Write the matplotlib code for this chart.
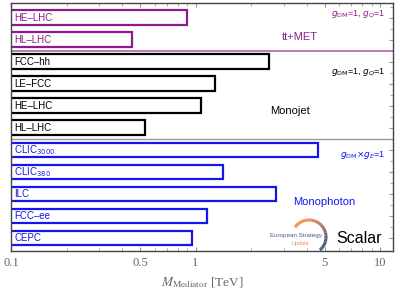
import matplotlib
matplotlib.use("Agg")
import matplotlib.pyplot as plt
import numpy as np
from matplotlib.patches import Arc
from matplotlib.ticker import FixedLocator, FixedFormatter, NullFormatter

# bar labels and reach (TeV), from top to bottom
ttmet_labels = ["HE\u2013LHC", "HL\u2013LHC"]
ttmet_values = [0.90, 0.45]
monojet_labels = ["FCC\u2013hh", "LE\u2013FCC", "HE\u2013LHC", "HL\u2013LHC"]
monojet_values = [2.50, 1.27, 1.07, 0.53]
monophoton_labels = ["CLIC$_{3000}$", "CLIC$_{380}$", "ILC", "FCC\u2013ee", "CEPC"]
monophoton_values = [4.6, 1.40, 2.72, 1.16, 0.96]

xtick_values = [0.1, 0.5, 1, 5, 10]
xtick_labels = ["0.1", "0.5", "1", "5", "10"]

purple = "#8C1C8C"
blue = "#1414EE"
grey = "#666666"

fig = plt.figure(figsize=(3.98, 2.90), dpi=100)
ax = fig.add_axes([11 / 398, 39 / 290, 382 / 398, 248 / 290])

groups = [
    (ttmet_labels, ttmet_values, purple),
    (monojet_labels, monojet_values, "black"),
    (monophoton_labels, monophoton_values, blue),
]
n_rows = sum(len(g[0]) for g in groups)
row = n_rows - 1
for labels, values, color in groups:
    for lab, val in zip(labels, values):
        ax.barh(row, val - 0.05, left=0.05, height=0.66, facecolor="white",
                edgecolor=color, linewidth=1.6)
        ax.text(0.008, row, lab, transform=ax.get_yaxis_transform(),
                ha="left", va="center", fontsize=7, color=color,
                family="Liberation Sans", math_fontfamily="dejavusans")
        row -= 1

# group separators
ax.axhline(8.5, color="#B060B0", lw=1.2)
ax.axhline(4.5, color="#999999", lw=1.0)

ax.set_xscale("log")
ax.set_xlim(0.1, 11.75)
ax.set_ylim(-0.59, 10.66)

ax.xaxis.set_major_locator(FixedLocator(xtick_values))
ax.xaxis.set_major_formatter(FixedFormatter(xtick_labels))
ax.xaxis.set_minor_formatter(NullFormatter())
ax.tick_params(axis="x", which="both", direction="in", top=True, color="#999999",
               labelsize=9, labelcolor=grey, pad=4)
ax.tick_params(axis="x", which="major", length=3)
ax.tick_params(axis="x", which="minor", length=2)
for t in ax.get_xticklabels():
    t.set_family("Liberation Serif")

ax.yaxis.set_major_locator(FixedLocator(np.arange(n_rows)))
ax.yaxis.set_minor_locator(FixedLocator(np.arange(n_rows) + 0.5))
ax.tick_params(axis="y", which="both", direction="in", left=False, right=True,
               labelleft=False, color="#999999")
ax.tick_params(axis="y", which="major", length=3)
ax.tick_params(axis="y", which="minor", length=2)
for s in ax.spines.values():
    s.set_color("#444444")
    s.set_linewidth(1.0)

ax.set_xlabel(r"$M_{\mathrm{Mediator}}$ [TeV]", fontsize=9.5, color=grey,
              family="Liberation Serif", math_fontfamily="stix", labelpad=5)

# annotations
ann = dict(transform=ax.get_yaxis_transform(), family="Liberation Sans",
           math_fontfamily="dejavusans")
ax.text(0.98, 10.16, r"$g_{\mathrm{DM}}$=1, $g_{Q}$=1", ha="right", va="center",
        fontsize=6.5, color=purple, **ann)
ax.text(0.757, 9.12, "tt+MET", ha="center", va="center", fontsize=8, color=purple, **ann)
ax.text(0.98, 7.53, r"$g_{\mathrm{DM}}$=1, $g_{Q}$=1", ha="right", va="center",
        fontsize=6.5, color="black", **ann)
ax.text(0.730, 5.76, "Monojet", ha="center", va="center", fontsize=8, color="black", **ann)
ax.text(0.98, 3.76, r"$g_{\mathrm{DM}}$$\times$$g_{E}$=1", ha="right", va="center",
        fontsize=6.5, color=blue, **ann)
ax.text(0.819, 1.63, "Monophoton", ha="center", va="center", fontsize=8, color=blue, **ann)
ax.text(0.911, -0.045, "Scalar", ha="center", va="center", fontsize=11.5, color="black", **ann)

# small logo
lg = fig.add_axes([262 / 398, 38 / 290, 70 / 398, 40 / 290])
lg.set_xlim(262, 332)
lg.set_ylim(38, 78)
lg.axis("off")
c_orange = np.array([0.94, 0.54, 0.29])
c_blue = np.array([0.23, 0.31, 0.48])
angles = np.linspace(145, -50, 40)
for i in range(len(angles) - 1):
    f = min(max((90 - angles[i]) / 110, 0), 1)
    col = c_orange * (1 - f) + c_blue * f
    lg.add_patch(Arc((309, 53), 34, 34, theta1=angles[i + 1], theta2=angles[i],
                     color=col, lw=2.2))
lg.text(296, 54, "European Strategy", ha="center", va="center", fontsize=4.5,
        color="#4A5A85", family="Liberation Sans")
lg.text(300, 46.5, "Update", ha="center", va="center", fontsize=4,
        color="#F08A4B", family="Liberation Sans")

fig.savefig("out.png", dpi=100)
